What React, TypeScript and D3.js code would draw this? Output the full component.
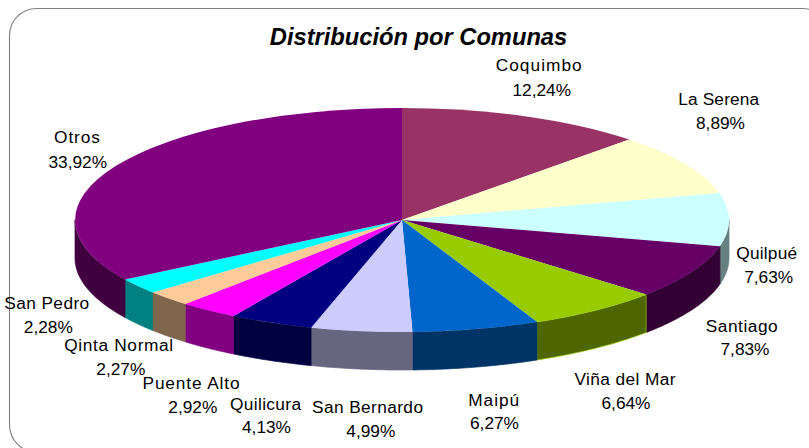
import { useEffect, useRef } from "react";
import * as d3 from "d3";

const comunas = [
  "Coquimbo", "La Serena", "Quilpué", "Santiago", "Viña del Mar", "Maipú",
  "San Bernardo", "Quilicura", "Puente Alto", "Qinta Normal", "San Pedro", "Otros",
];
const porcentajes = [12.24, 8.89, 7.63, 7.83, 6.64, 6.27, 4.99, 4.13, 2.92, 2.27, 2.28, 33.92];
const colores = [
  "#993366", "#ffffcc", "#ccffff", "#660066", "#99cc00", "#0066cc",
  "#ccccff", "#000080", "#ff00ff", "#ffcc99", "#00ffff", "#800080",
];
const coloresLado = [
  "#4d3333", "#808066", "#668080", "#330033", "#4d6600", "#003366",
  "#666680", "#000040", "#800080", "#80664d", "#008080", "#400040",
];
// label layout: name centre x, name baseline, name width, percent centre x, percent baseline
const etiquetas = [
  [538.7, 71, 86, 541.8, 95.5],
  [718.7, 105, 81, 720.5, 129],
  [766.7, 259, 61, 768.7, 283],
  [741.7, 331.5, 72, 745, 355],
  [625, 385, 101, 626, 409],
  [493.7, 405.5, 51, 494.5, 429],
  [367.5, 412.5, 111, 370.8, 436.5],
  [265.5, 410, 71, 266.5, 433],
  [191, 389, 97, 192.8, 413],
  [118.7, 351, 109, 120.8, 375],
  [46.7, 309, 85, 48.3, 333],
  [77, 143, 46, 77.8, 167.5],
];

const width = 809;
const height = 448;
const cx = 402;
const cy = 220;
const rx = 327;
const ry = 112;
const depth = 38;

export default function App() {
  const ref = useRef<SVGSVGElement>(null);

  useEffect(() => {
    const svg = d3.select(ref.current);
    svg.selectAll("*").remove();

    svg.append("rect")
      .attr("x", 9.5).attr("y", 8.5)
      .attr("width", 820).attr("height", 443.5)
      .attr("rx", 27).attr("ry", 27)
      .attr("fill", "#fff").attr("stroke", "#808080").attr("stroke-width", 1.1);

    svg.append("text")
      .attr("x", 418.5).attr("y", 44.5)
      .attr("text-anchor", "middle")
      .attr("font-family", "Liberation Sans")
      .attr("font-size", 23.7).attr("font-weight", "bold").attr("font-style", "italic")
      .text("Distribución por Comunas");

    const pie = d3.pie<number>().sort(null);
    const arcs = pie(porcentajes);

    // pie is drawn on a unit circle and squashed into the ellipse
    const arc = d3.arc<d3.PieArcDatum<number>>().innerRadius(0).outerRadius(1);
    const px = d3.scaleLinear().domain([-1, 1]).range([cx - rx, cx + rx]);
    const py = d3.scaleLinear().domain([-1, 1]).range([cy - ry, cy + ry]);

    // front wall: only the part of the rim that faces the viewer
    const wall = (a0: number, a1: number) => {
      const top = d3.range(0, 41).map((i) => a0 + ((a1 - a0) * i) / 40);
      const pts: [number, number][] = [
        ...top.map((a) => [px(Math.sin(a)), py(-Math.cos(a))] as [number, number]),
        ...top.slice().reverse().map((a) => [px(Math.sin(a)), py(-Math.cos(a)) + depth] as [number, number]),
      ];
      return d3.line()(pts) + "Z";
    };

    const front = arcs
      .map((d, i) => ({
        i,
        a0: Math.max(d.startAngle, Math.PI / 2),
        a1: Math.min(d.endAngle, (3 * Math.PI) / 2),
      }))
      .filter((d) => d.a1 > d.a0);

    svg.append("g").selectAll("path")
      .data(front)
      .join("path")
      .attr("d", (d) => wall(d.a0, d.a1))
      .attr("fill", (d) => coloresLado[d.i])
      .attr("stroke", (d) => (comunas[d.i] === "Viña del Mar" ? "#99cc00" : coloresLado[d.i]))
      .attr("stroke-width", 0.7);

    svg.append("g")
      .attr("transform", `translate(${cx},${cy}) scale(${rx},${ry})`)
      .selectAll("path")
      .data(arcs)
      .join("path")
      .attr("d", arc)
      .attr("fill", (_, i) => colores[i]);

    const labels = svg.append("g")
      .attr("font-family", "Liberation Sans")
      .attr("font-size", 17.3)
      .attr("fill", "#000")
      .attr("text-anchor", "middle");
    comunas.forEach((name, i) => {
      const [nx, ny, nw, vx, vy] = etiquetas[i];
      labels.append("text")
        .attr("x", nx).attr("y", ny)
        .attr("textLength", nw).attr("lengthAdjust", "spacing")
        .text(name);
      labels.append("text")
        .attr("x", vx).attr("y", vy)
        .text(porcentajes[i].toFixed(2).replace(".", ",") + "%");
    });
  }, []);

  return (
    <svg
      ref={ref}
      width={width}
      height={height}
      style={{ position: "absolute", left: 0, top: 0, background: "#fff" }}
    />
  );
}
